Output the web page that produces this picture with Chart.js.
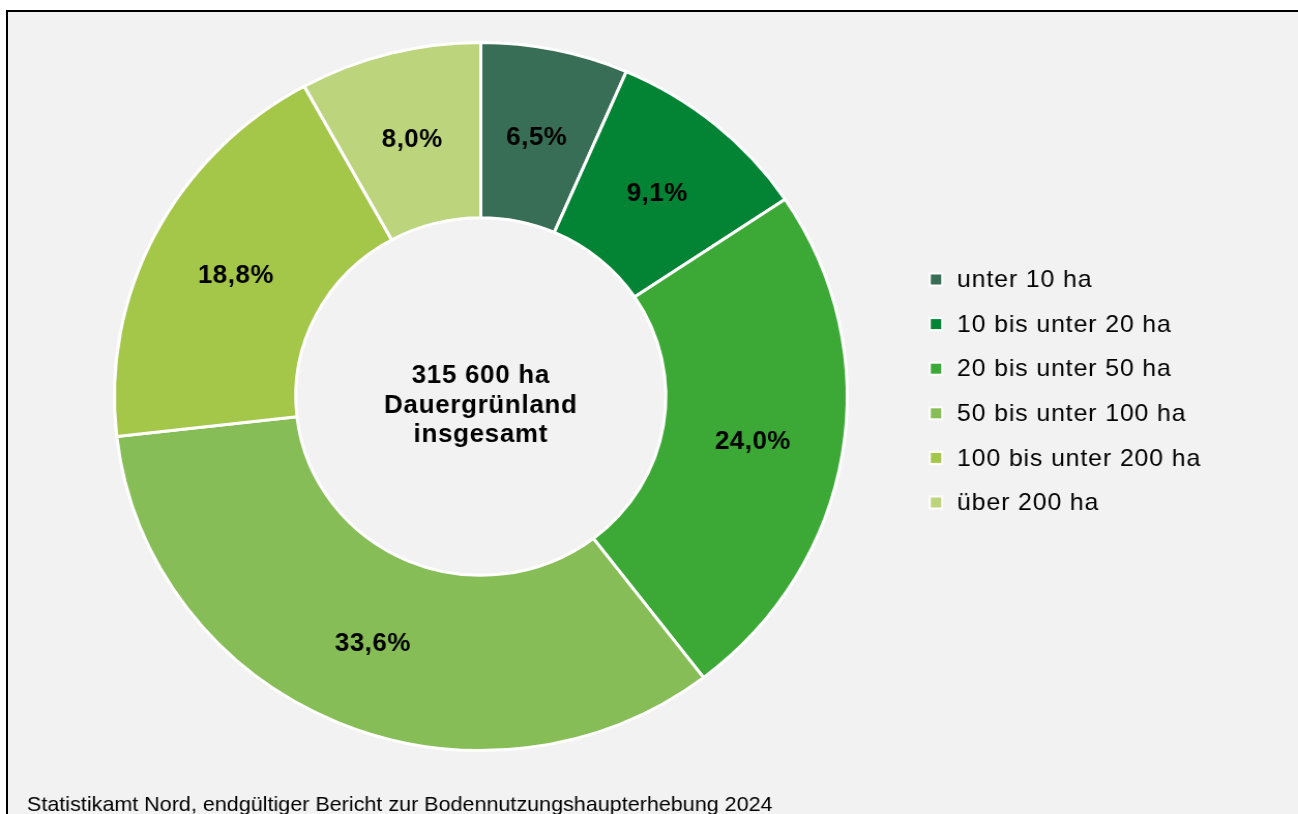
<!DOCTYPE html>
<html><head><meta charset="utf-8">
<script src="https://cdn.jsdelivr.net/npm/chart.js@4"></script>
<style>
html,body{margin:0;padding:0;background:#fff;width:1298px;height:814px;overflow:hidden;}
#frame{position:absolute;left:6px;top:10px;width:1310px;height:830px;border-top:2px solid #000;border-left:2px solid #000;background:#f2f2f2;}
canvas{position:absolute;left:0;top:0;width:1298px !important;height:814px !important;}
</style></head><body>
<div id="frame"></div>
<canvas id="c" width="1254" height="814"></canvas>
<script>
const categories = ['unter 10 ha', '10 bis unter 20 ha', '20 bis unter 50 ha', '50 bis unter 100 ha', '100 bis unter 200 ha', 'über 200 ha'];
const shares = [6.5, 9.1, 24.0, 33.6, 18.8, 8.0];
const colors = ['#376e55', '#038334', '#3ca936', '#86bd57', '#a4c649', '#bcd57d'];
const centerLines = ['315 600 ha', 'Dauergrünland', 'insgesamt'];
const sourceText = 'Statistikamt Nord, endgültiger Bericht zur Bodennutzungshaupterhebung 2024';

const FONT = '"Liberation Sans", Arial, sans-serif';
const SX = 1298 / 1254; // horizontal stretch of the canvas

const overlay = {
  id: 'overlay',
  afterDraw(chart) {
    const ctx = chart.ctx;
    const meta = chart.getDatasetMeta(0);
    const hasLS = 'letterSpacing' in ctx;
    ctx.save();
    // segment labels
    ctx.fillStyle = '#000';
    ctx.font = 'bold 25px ' + FONT;
    ctx.textAlign = 'center';
    ctx.textBaseline = 'middle';
    if (hasLS) ctx.letterSpacing = '0.5px';
    meta.data.forEach((arc, i) => {
      const p = arc.getCenterPoint();
      const txt = shares[i].toFixed(1).replace('.', ',') + '%';
      ctx.fillText(txt, p.x, p.y + 2);
    });
    // center text
    const a0 = meta.data[0];
    const cx = a0.x, cy = a0.y;
    if (hasLS) ctx.letterSpacing = '0.7px';
    ctx.textBaseline = 'alphabetic';
    const lh = 29.5;
    centerLines.forEach((t, i) => {
      ctx.fillText(t, cx, cy - 13.5 + i * lh);
    });
    // legend
    ctx.textAlign = 'left';
    ctx.textBaseline = 'middle';
    ctx.font = '24px ' + FONT;
    if (hasLS) ctx.letterSpacing = '0.85px';
    const lx = 936 / SX, tx = 957 / SX, ly0 = 279.5, step = 44.6;
    categories.forEach((c, i) => {
      const y = ly0 + i * step;
      ctx.fillStyle = '#ffffff';
      ctx.fillRect(lx - 7, y - 7, 14, 14);
      ctx.fillStyle = colors[i];
      ctx.fillRect(lx - 5, y - 5, 10, 10);
      ctx.fillStyle = '#000';
      ctx.fillText(c, tx, y + 1);
    });
    // footer
    if (hasLS) ctx.letterSpacing = '0px';
    ctx.font = '20.8px ' + FONT;
    ctx.textBaseline = 'alphabetic';
    ctx.fillStyle = '#000';
    ctx.fillText(sourceText, 27 / SX, 811);
    ctx.restore();
  }
};

new Chart(document.getElementById('c'), {
  type: 'doughnut',
  data: {
    labels: categories,
    datasets: [{
      data: shares,
      backgroundColor: colors,
      borderColor: '#ffffff',
      borderWidth: 3
    }]
  },
  options: {
    responsive: false,
    animation: false,
    devicePixelRatio: 1,
    cutout: '50.5%',
    layout: { padding: { left: 109, right: 434, top: 41, bottom: 62 } },
    plugins: { legend: { display: false }, tooltip: { enabled: false } }
  },
  plugins: [overlay]
});
</script>
</body></html>
